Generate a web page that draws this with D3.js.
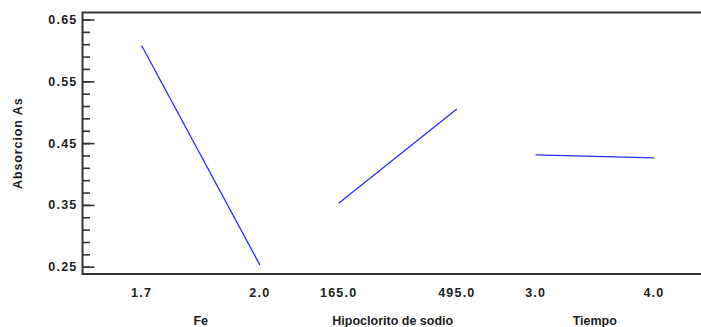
<!DOCTYPE html>
<html>
<head>
<meta charset="utf-8">
<script src="https://cdn.jsdelivr.net/npm/d3@7"></script>
<style>
    body { margin: 0; background: white; }
    svg { display: block; }
</style>
</head>
<body>
<svg id="chart"></svg>
<script>
    // main effects for Absorcion As
    let factors = ["Fe", "Hipoclorito de sodio", "Tiempo"];
    let lowLevels = [1.7, 165.0, 3.0];
    let highLevels = [2.0, 495.0, 4.0];
    let lowMeans = [0.608, 0.3525, 0.431];
    let highMeans = [0.253, 0.505, 0.426];
    let yTicks = [0.25, 0.35, 0.45, 0.55, 0.65];
    let yLabel = "Absorcion As";

    let width = 701;
    let height = 327;
    let margin = {top: 12.5, right: -12, bottom: 53, left: 82.5};

    let svg = d3.select("#chart").attr("width", width).attr("height", height);

    let plotRight = width - margin.right;
    let plotBottom = height - margin.bottom;

    let yScale = d3.scaleLinear([0.2382, 0.6613], [plotBottom, margin.top]);
    let groupScale = d3.scaleBand(factors, [margin.left, plotRight])
        .paddingInner(0.4)
        .paddingOuter(0.3);

    let tickFont = "bold 12.5px 'Liberation Sans', Arial, sans-serif";
    let textColor = "#1c1c1c";

    // frame
    svg.append("rect")
        .attr("x", margin.left)
        .attr("y", margin.top)
        .attr("width", plotRight - margin.left)
        .attr("height", plotBottom - margin.top)
        .attr("fill", "none")
        .attr("stroke", "#333")
        .attr("stroke-width", 2);

    let minorTicks = d3.range(0, 21).map(i => +(0.25 + i * 0.02).toFixed(2));

    // left axis
    let left = svg.append("g").attr("transform", `translate(${margin.left},0)`);
    left.call(d3.axisRight(yScale).tickValues(minorTicks).tickSize(7.5).tickFormat(""));
    left.call(g => g.append("g").call(d3.axisRight(yScale).tickValues(yTicks).tickSize(12).tickFormat("")));
    left.selectAll(".domain").remove();
    left.selectAll(".tick line").attr("stroke", "#333").attr("stroke-width", 1.6);

    // right axis (mostly cut off by the page edge)
    let right = svg.append("g").attr("transform", `translate(${plotRight},0)`);
    right.call(d3.axisLeft(yScale).tickValues(yTicks).tickSize(12).tickFormat(""));
    right.selectAll(".domain").remove();
    right.selectAll(".tick line").attr("stroke", "#333").attr("stroke-width", 1.6);

    svg.append("g")
        .selectAll("text")
        .data(yTicks)
        .join("text")
        .attr("x", margin.left - 5)
        .attr("y", d => yScale(d))
        .attr("dy", "0.36em")
        .attr("text-anchor", "end")
        .style("font", tickFont)
        .style("letter-spacing", "1.2px")
        .attr("fill", textColor)
        .text(d => d.toFixed(2));

    svg.append("text")
        .attr("transform", `translate(22,${(margin.top + plotBottom) / 2}) rotate(-90)`)
        .attr("text-anchor", "middle")
        .style("font", "bold 12.5px 'Liberation Sans', Arial, sans-serif")
        .style("letter-spacing", "0.9px")
        .attr("fill", textColor)
        .text(yLabel);

    // each factor gets its own little x scale inside its band
    factors.forEach((name, i) =>
    {
        let x0 = groupScale(name);
        let xScale = d3.scaleLinear([lowLevels[i], highLevels[i]], [x0, x0 + groupScale.bandwidth()]);
        let points = [[lowLevels[i], lowMeans[i]], [highLevels[i], highMeans[i]]];

        svg.append("path")
            .datum(points)
            .attr("fill", "none")
            .attr("stroke", "#2a2aff")
            .attr("stroke-width", 1.3)
            .attr("d", d3.line(d => xScale(d[0]), d => yScale(d[1])));

        svg.append("g")
            .selectAll("text")
            .data([lowLevels[i], highLevels[i]])
            .join("text")
            .attr("x", d => xScale(d))
            .attr("y", 297)
            .attr("text-anchor", "middle")
            .style("font", tickFont)
            .style("letter-spacing", "1.2px")
            .attr("fill", textColor)
            .text(d => d.toFixed(1));

        svg.append("text")
            .attr("x", x0 + groupScale.bandwidth() / 2 - (i === 1 ? 5 : 0))
            .attr("y", 325)
            .attr("text-anchor", "middle")
            .style("font", "bold 12.5px 'Liberation Sans', Arial, sans-serif")
            .attr("fill", textColor)
            .text(name);
    });
</script>
</body>
</html>
